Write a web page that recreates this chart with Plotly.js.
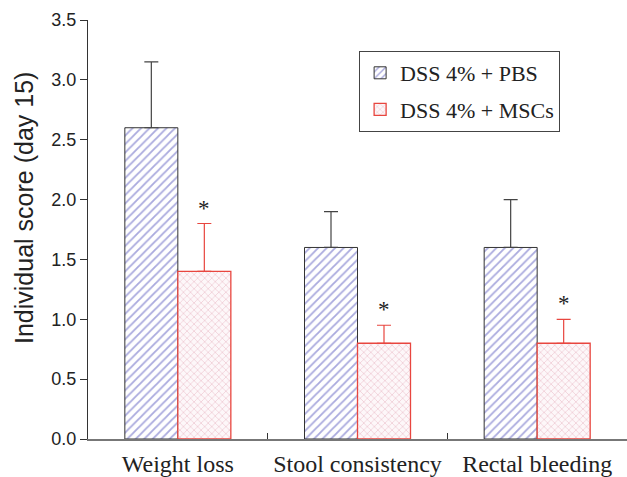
<!DOCTYPE html>
<html><head><meta charset="utf-8">
<script src="https://cdn.plot.ly/plotly-3.0.1.min.js"></script>
<style>html,body{margin:0;padding:0;background:#fff}</style>
</head><body>
<div id="chart" style="width:627px;height:477px"></div>
<script>
const categories = ["Weight loss", "Stool consistency", "Rectal bleeding"];
const pbsMean = [2.6, 1.6, 1.6];
const pbsErr = [0.55, 0.3, 0.4];
const mscMean = [1.4, 0.8, 0.8];
const mscErr = [0.4, 0.15, 0.2];
const mscSignificant = [true, true, true];
const seriesNames = ["DSS 4% + PBS", "DSS 4% + MSCs"];
const yTitle = "Individual score (day 15)";

const bargap = 0.41;
const offset = (1 - bargap) / 4;
const serif = 'Liberation Serif, Times New Roman, serif';
const sans = 'Liberation Sans, Arial, sans-serif';

const traces = [
  {
    type: 'bar', name: seriesNames[0], x: categories, y: pbsMean, legendgroup: 'a',
    marker: {color: '#ffffff', line: {color: '#333333', width: 1},
      pattern: {shape: '/', fgcolor: '#aaaade', bgcolor: '#ffffff', size: 6, solidity: 0.3}},
    error_y: {type: 'data', symmetric: false, array: pbsErr, arrayminus: pbsMean.map(() => 0),
      color: '#444444', thickness: 1.2, width: 7}
  },
  {
    type: 'bar', name: seriesNames[1], x: categories, y: mscMean, legendgroup: 'b',
    marker: {color: '#ffffff', line: {color: '#e8463f', width: 1.3},
      pattern: {shape: 'x', fgcolor: '#ecc6d0', bgcolor: '#fdf7f9', size: 5, solidity: 0.25}},
    error_y: {type: 'data', symmetric: false, array: mscErr, arrayminus: mscMean.map(() => 0),
      color: '#e8463f', thickness: 1.2, width: 7}
  }
];

const annotations = [];
categories.forEach((c, i) => {
  if (mscSignificant[i]) {
    annotations.push({x: i + offset, y: mscMean[i] + mscErr[i], xref: 'x', yref: 'y',
      text: '*', showarrow: false, yanchor: 'bottom', yshift: 1,
      font: {family: serif, size: 23, color: '#222'}});
  }
});
annotations.push({xref: 'paper', yref: 'paper', x: -0.119, y: 0.551, xanchor: 'center', yanchor: 'middle',
  text: yTitle, textangle: -90, showarrow: false, font: {family: sans, size: 25, color: '#222'}});

const layout = {
  width: 627, height: 477,
  margin: {l: 88, r: 0, t: 20, b: 38},
  paper_bgcolor: '#fff', plot_bgcolor: '#fff',
  barmode: 'group', bargap: bargap, bargroupgap: 0,
  showlegend: true,
  legend: {x: 0.503, y: 0.926, xanchor: 'left', yanchor: 'top',
    bordercolor: '#444', borderwidth: 1, bgcolor: '#fff',
    font: {family: serif, size: 22, color: '#222'},
    traceorder: 'grouped', tracegroupgap: 5},
  xaxis: {type: 'category', range: [-0.5, 2.5], showline: true, linecolor: '#777', linewidth: 1.5,
    ticks: 'inside', tickson: 'boundaries', ticklen: 6, tickcolor: '#333', tickwidth: 1.5,
    showgrid: false, zeroline: false, ticklabelstandoff: 3,
    tickfont: {family: serif, size: 24, color: '#222'}},
  yaxis: {range: [0, 3.5], dtick: 0.5, tickformat: '.1f', showline: true, linecolor: '#333', linewidth: 1,
    ticks: 'outside', ticklen: 7, tickcolor: '#333', showgrid: false, zeroline: false,
    tickfont: {family: sans, size: 18, color: '#222'}},
  annotations: annotations
};

Plotly.newPlot('chart', traces, layout, {displayModeBar: false, staticPlot: true});
</script>
</body></html>
